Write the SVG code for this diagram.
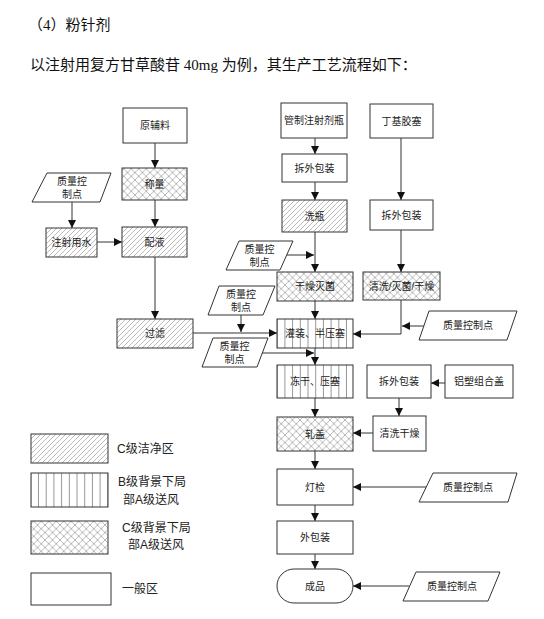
<svg xmlns="http://www.w3.org/2000/svg" width="544" height="619" viewBox="0 0 544 619">
<defs>
<pattern id="diag" patternUnits="userSpaceOnUse" width="5" height="5">
<path d="M0,5 L5,0 M-1,1 L1,-1 M4,6 L6,4" stroke="#aaa" stroke-width="0.8"/>
</pattern>
<pattern id="cross" patternUnits="userSpaceOnUse" width="7.5" height="7.5">
<path d="M0,0 L7.5,7.5 M7.5,0 L0,7.5" stroke="#999" stroke-width="0.7"/>
</pattern>
<pattern id="vert" patternUnits="userSpaceOnUse" width="7.7" height="10" x="0.5">
<path d="M7.2,0 V10" stroke="#888" stroke-width="0.9"/>
</pattern>
<marker id="arr" markerUnits="userSpaceOnUse" markerWidth="8" markerHeight="8" refX="8" refY="4" orient="auto">
<path d="M0,0 L8,4 L0,8 z" fill="#111"/>
</marker>
</defs>
<style>
.b{fill:#fff;stroke:#333;stroke-width:1}
.d{fill:url(#diag);stroke:#333;stroke-width:1}
.c{fill:url(#cross);stroke:#333;stroke-width:1}
.v{fill:url(#vert);stroke:#333;stroke-width:1}
.t{font-family:"Liberation Sans","Noto Sans CJK SC",sans-serif;font-size:10px;fill:#222;text-anchor:middle;dominant-baseline:central}
.lg{font-family:"Liberation Sans","Noto Sans CJK SC",sans-serif;font-size:12px;fill:#222;dominant-baseline:central}
.h{font-family:"Liberation Serif","Noto Sans CJK SC",serif;font-size:15px;fill:#111}
.e{fill:none;stroke:#333;stroke-width:1;marker-end:url(#arr)}
.ln{fill:none;stroke:#333;stroke-width:1}
</style>
<rect width="544" height="619" fill="#fff"/>
<text class="h" x="28" y="30">（4）粉针剂</text>
<text class="h" x="30" y="70">以注射用复方甘草酸苷 40mg 为例，其生产工艺流程如下：</text>

<g id="connectors">
<path class="e" d="M155,143 V168"/>
<path class="e" d="M155,200 V227"/>
<path class="e" d="M72,202 V228"/>
<path class="e" d="M97,242 H122"/>
<path class="e" d="M155,257 V319"/>
<path class="e" d="M193,333 H277"/>
<path class="e" d="M315,138 V154"/>
<path class="e" d="M315,182 V200"/>
<path class="e" d="M315,232 V272"/>
<path class="e" d="M287,255 H314"/>
<path class="e" d="M315,301 V319"/>
<path class="e" d="M241,315 V332"/>
<path class="e" d="M262,353 H314"/>
<path class="e" d="M315,348 V365"/>
<path class="e" d="M315,398 V417"/>
<path class="e" d="M315,451 V469"/>
<path class="e" d="M315,505 V521"/>
<path class="e" d="M315,554 V569"/>
<path class="e" d="M401,138 V200"/>
<path class="e" d="M401,230 V272"/>
<path class="e" d="M401,300 V334 H353"/>
<path class="e" d="M424,326 H402"/>
<path class="e" d="M445,383 H431"/>
<path class="e" d="M399,398 V416"/>
<path class="e" d="M373,433 H353"/>
<path class="e" d="M426,487 H353"/>
<path class="e" d="M409,586 H353"/>
</g>

<g id="n-yuanfuliao"><rect class="b" x="123" y="108" width="64" height="35"/><text class="t" x="155" y="125.5">原辅料</text></g>
<g id="n-chengliang"><rect class="c" x="122" y="168" width="65" height="32"/><text class="t" x="154.5" y="184">称量</text></g>
<g id="n-peiye"><rect class="d" x="122" y="227" width="65" height="30"/><text class="t" x="154.5" y="242">配液</text></g>
<g id="n-qc1"><path class="b" d="M47,173 L111,173 L100,202 L32,202 z"/><text class="t" x="72" y="181">质量控</text><text class="t" x="72" y="194">制点</text></g>
<g id="n-zhusheyongshui"><rect class="d" x="46" y="228" width="51" height="29"/><text class="t" x="71.5" y="242.5">注射用水</text></g>
<g id="n-guolv"><rect class="d" x="117" y="319" width="76" height="29"/><text class="t" x="155" y="333.5">过滤</text></g>

<g id="n-guanzhi"><rect class="b" x="281" y="103" width="66" height="35"/><text class="t" x="314" y="120.5">管制注射剂瓶</text></g>
<g id="n-chaiwai1"><rect class="b" x="282" y="154" width="65" height="28"/><text class="t" x="314.5" y="168">拆外包装</text></g>
<g id="n-xiping"><rect class="d" x="282" y="200" width="65" height="32"/><text class="t" x="314.5" y="216">洗瓶</text></g>
<g id="n-qc2"><path class="b" d="M239,241 L293,241 L280,270 L226,270 z"/><text class="t" x="259.5" y="249">质量控</text><text class="t" x="259.5" y="262">制点</text></g>
<g id="n-ganzao"><rect class="c" x="277" y="272" width="76" height="29"/><text class="t" x="315" y="286.5">干燥灭菌</text></g>
<g id="n-qc3"><path class="b" d="M219,286 L275,286 L263,315 L208,315 z"/><text class="t" x="241" y="294">质量控</text><text class="t" x="241" y="307">制点</text></g>
<g id="n-guanzhuang"><rect class="v" x="277" y="319" width="76" height="29"/><text class="t" x="315" y="333.5">灌装、半压塞</text></g>
<g id="n-qc4"><path class="b" d="M213,338 L268,338 L257,367 L202,367 z"/><text class="t" x="234.5" y="346">质量控</text><text class="t" x="234.5" y="359">制点</text></g>
<g id="n-donggan"><rect class="v" x="277" y="365" width="76" height="33"/><text class="t" x="315" y="381.5">冻干、压塞</text></g>
<g id="n-zhagai"><rect class="c" x="277" y="417" width="76" height="34"/><text class="t" x="315" y="434">轧盖</text></g>
<g id="n-dengjian"><rect class="b" x="277" y="469" width="76" height="36"/><text class="t" x="315" y="487">灯检</text></g>
<g id="n-waibaozhuang"><rect class="b" x="277" y="521" width="76" height="33"/><text class="t" x="315" y="537.5">外包装</text></g>
<g id="n-chengpin"><rect class="b" x="277" y="569" width="76" height="34" rx="17" ry="17"/><text class="t" x="315" y="586">成品</text></g>

<g id="n-dingji"><rect class="b" x="370" y="104" width="63" height="34"/><text class="t" x="401.5" y="121">丁基胶塞</text></g>
<g id="n-chaiwai2"><rect class="b" x="370" y="200" width="63" height="30"/><text class="t" x="401.5" y="215">拆外包装</text></g>
<g id="n-qingxi"><rect class="c" x="363" y="272" width="77" height="28"/><text class="t" x="401.5" y="286">清洗/灭菌/干燥</text></g>
<g id="n-qc5"><path class="b" d="M429,311 L517,311 L507,340 L419,340 z"/><text class="t" x="468" y="325.5">质量控制点</text></g>
<g id="n-chaiwai3"><rect class="b" x="367" y="365" width="64" height="33"/><text class="t" x="399" y="381.5">拆外包装</text></g>
<g id="n-lvsu"><rect class="b" x="445" y="365" width="68" height="33"/><text class="t" x="479" y="381.5">铝塑组合盖</text></g>
<g id="n-qingxiganzao"><rect class="b" x="373" y="416" width="53" height="35"/><text class="t" x="399.5" y="433.5">清洗干燥</text></g>
<g id="n-qc6"><path class="b" d="M433,473 L517,473 L508,502 L419,502 z"/><text class="t" x="468" y="487.5">质量控制点</text></g>
<g id="n-qc7"><path class="b" d="M416,572 L500,572 L488,601 L403,601 z"/><text class="t" x="452" y="586.5">质量控制点</text></g>

<g id="legend">
<rect class="d" x="31" y="434" width="77" height="29"/><text class="lg" x="117" y="448.5">C级洁净区</text>
<rect class="v" x="31" y="473" width="77" height="34"/><text class="lg" x="118" y="482">B级背景下局</text><text class="lg" x="123" y="500">部A级送风</text>
<rect class="c" x="31" y="521" width="77" height="33"/><text class="lg" x="122" y="527.5">C级背景下局</text><text class="lg" x="128" y="545">部A级送风</text>
<rect class="b" x="31" y="573" width="80" height="32"/><text class="lg" x="122" y="588.5">一般区</text>
</g>
</svg>
